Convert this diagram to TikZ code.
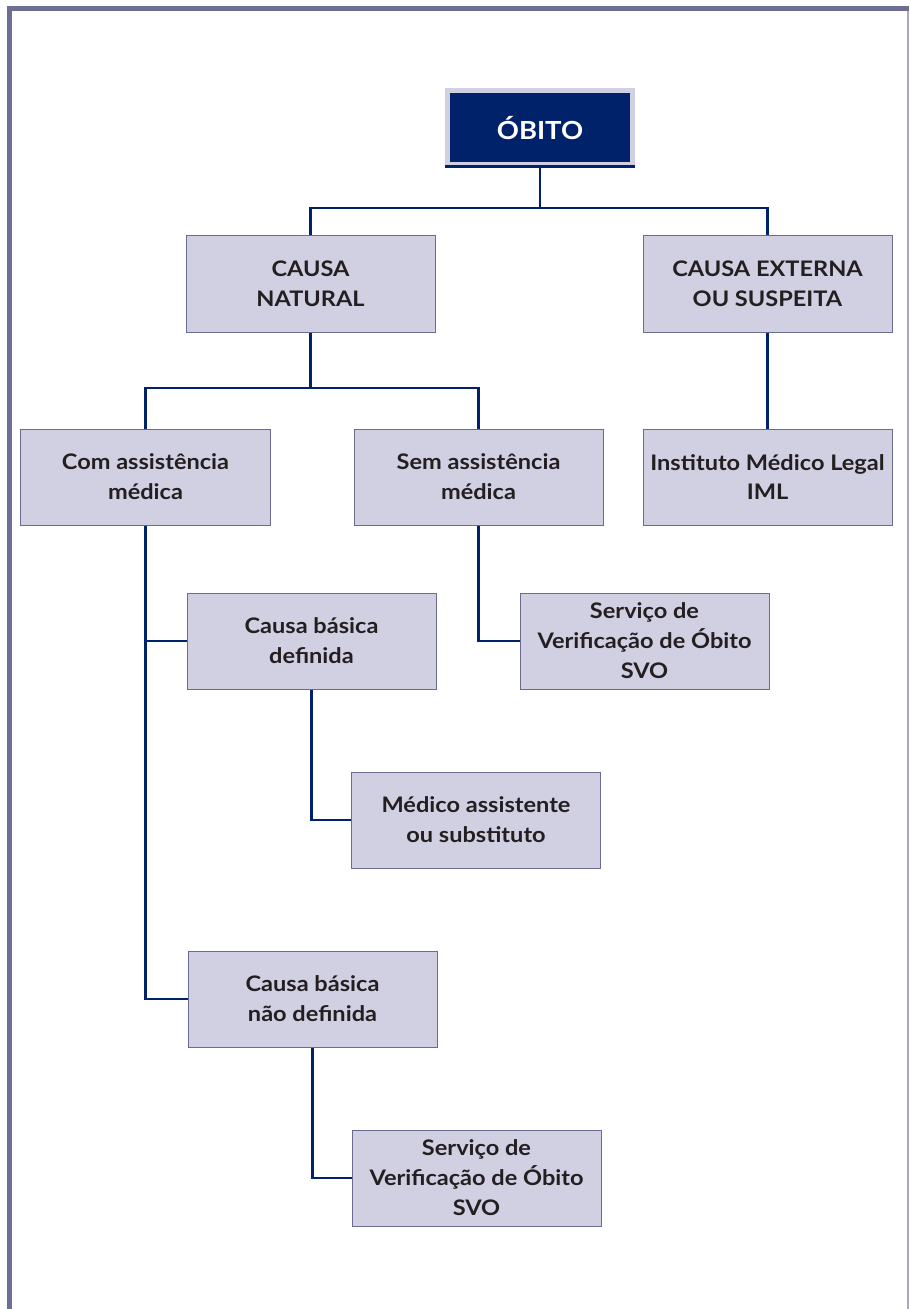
\documentclass[tikz,border=0pt]{standalone}
\usepackage{fontspec}
\setmainfont{Lato}[BoldFont={Lato Bold}, BoldFeatures={FakeStretch=1.1}]
\definecolor{frame}{HTML}{6C6E94}
\definecolor{frameR}{HTML}{A9A8C8}
\definecolor{lav}{HTML}{D1D0E3}
\definecolor{boxline}{HTML}{6A6A92}
\definecolor{navy}{HTML}{00226A}
\definecolor{txt}{HTML}{231F20}
\tikzset{
  box/.style={rectangle, draw=boxline, line width=1bp, fill=lav, minimum width=249bp, minimum height=96bp,
    inner sep=0pt, align=center, text=txt, font=\fontsize{21.5}{30}\selectfont\bfseries},
  conn/.style={draw=navy, line width=2.2bp},
}
\begin{document}
\begin{tikzpicture}[x=1bp,y=-1bp]
\useasboundingbox (0,0) rectangle (909,1309);
% frame
\fill[frameR] (906.5,10) rectangle (909,1309);
\fill[frame] (7,6) rectangle (909,11);
\fill[frame] (7,6) rectangle (12,1309);
% top box
\fill[lav] (445,88) rectangle (635,165);
\fill[navy] (450,93) rectangle (630,162);
\fill[navy] (445,165) rectangle (635,168.5);
\node[font=\fontsize{25}{28}\selectfont\bfseries, text=white, inner sep=0pt] (obito) at (540,128) {ÓBITO};
\coordinate (obitoS) at (540,168);
% boxes
\node[box] (natural) at (310.5,284) {CAUSA\\NATURAL};
\node[box] (externa) at (767.5,284) {CAUSA EXTERNA\\OU SUSPEITA};
\node[box] (com) at (145.5,477) {Com assistência\\médica};
\node[box] (sem) at (478.5,477) {Sem assistência\\médica};
\node[box] (iml) at (767.5,477) {Instituto Médico Legal\\IML};
\node[box] (def) at (311.5,641) {Causa básica\\definida};
\node[box] (svo1) at (644.5,641) {Serviço de\\Verificação de Óbito\\SVO};
\node[box] (med) at (476,820) {Médico assistente\\ou substituto};
\node[box] (ndef) at (312.5,999) {Causa básica\\não definida};
\node[box] (svo2) at (476.5,1178) {Serviço de\\Verificação de Óbito\\SVO};
% connectors
\coordinate (j1) at (540,208);
\coordinate (j2) at (310.5,388);
\draw[conn] (obitoS) -- (j1);
\draw[conn] (j1) -| (natural.north);
\draw[conn] (j1) -| (externa.north);
\draw[conn] (natural.south) -- (j2);
\draw[conn] (j2) -| (com.north);
\draw[conn] (j2) -| (sem.north);
\draw[conn] (externa.south) -- (iml.north);
\draw[conn] (com.south) |- (ndef.west);
\draw[conn] (com.south) |- (def.west);
\draw[conn] (sem.south) |- (svo1.west);
\draw[conn] (def.south) |- (med.west);
\draw[conn] (ndef.south) |- (svo2.west);
\end{tikzpicture}
\end{document}
